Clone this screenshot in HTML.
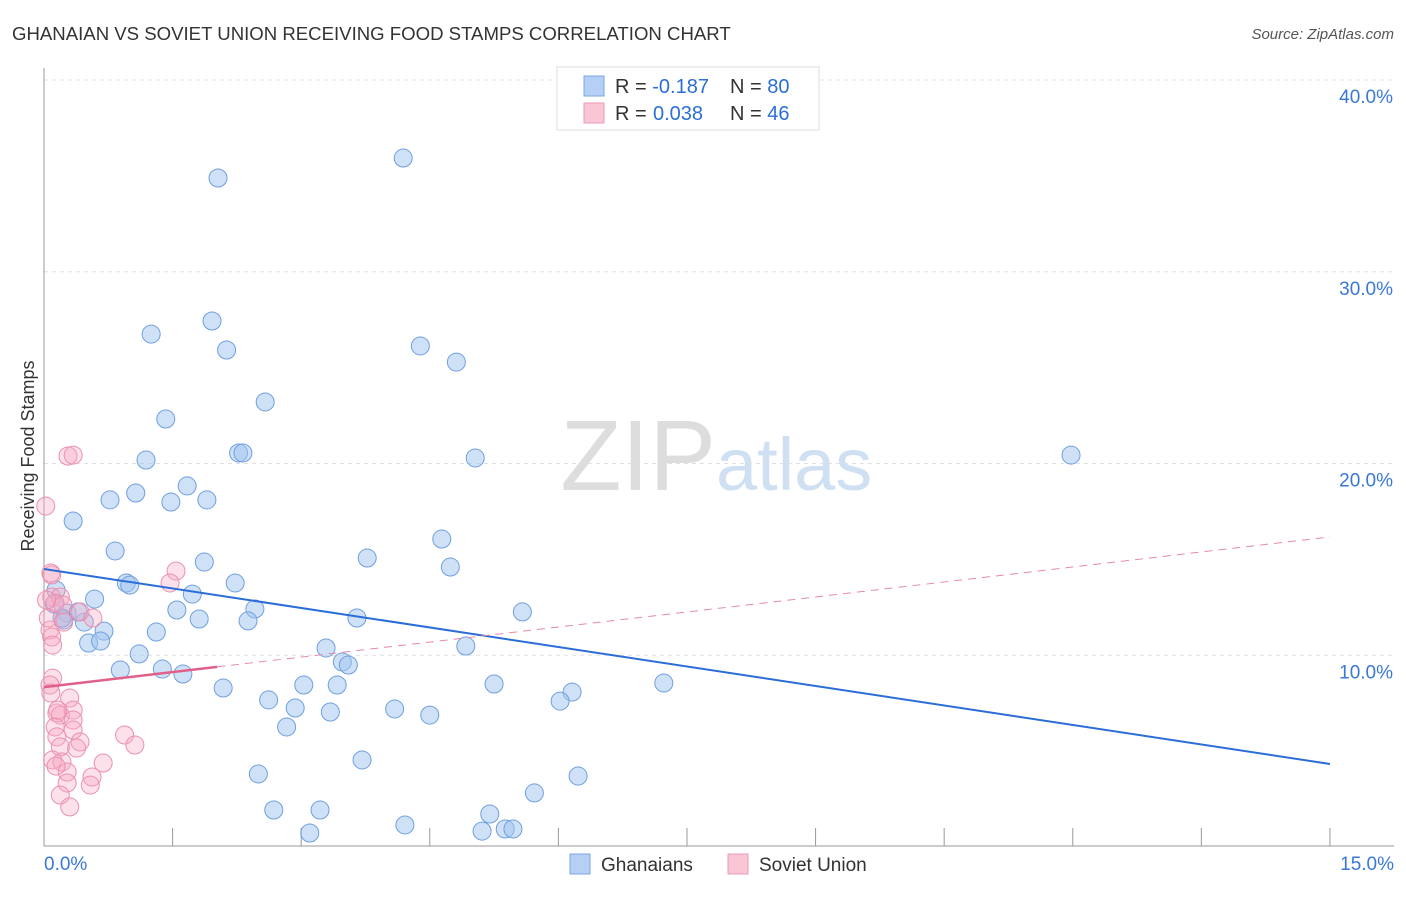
<!DOCTYPE html>
<html><head><meta charset="utf-8"><style>
body{margin:0;background:#fff;font-family:"Liberation Sans",sans-serif;}
svg text{font-family:"Liberation Sans",sans-serif;}
</style></head><body>
<svg id="c" width="1406" height="892">
<text x="12" y="40" font-size="18.6" fill="#333">GHANAIAN VS SOVIET UNION RECEIVING FOOD STAMPS CORRELATION CHART</text>
<text x="1394" y="39" font-size="15" fill="#555" text-anchor="end" font-style="italic">Source: ZipAtlas.com</text>
<text x="716" y="490" font-size="100" fill="#ddd" text-anchor="end" font-family="Liberation Serif">ZIP</text>
<text x="716" y="490" font-size="74" fill="#cfe0f3">atlas</text>
<text transform="translate(34,456) rotate(-90)" font-size="18" fill="#333" text-anchor="middle">Receiving Food Stamps</text>
<g id="grid"></g><g id="pts"></g><g id="lines"></g>
<g>
<rect x="557" y="67" width="262" height="63" fill="#fff" stroke="#ddd"/>
<rect x="584" y="76" width="20" height="20" fill="#b5d0f4" stroke="#7aa6e3"/>
<rect x="584" y="103" width="20" height="20" fill="#f9c6d6" stroke="#ec9bb6"/>
<text x="615" y="93" font-size="20" fill="#333">R = <tspan fill="#2b6fd6">-0.187</tspan><tspan x="730">N = </tspan><tspan fill="#2b6fd6">80</tspan></text>
<text x="615" y="120" font-size="20" fill="#333">R = <tspan x="653" fill="#2b6fd6">0.038</tspan><tspan x="730">N = </tspan><tspan fill="#2b6fd6">46</tspan></text>
</g>
<g>
<rect x="570" y="854" width="20" height="20" fill="#b5d0f4" stroke="#7aa6e3"/>
<text x="601" y="871" font-size="19" fill="#333">Ghanaians</text>
<rect x="728" y="854" width="20" height="20" fill="#f9c6d6" stroke="#ec9bb6"/>
<text x="759" y="871" font-size="19" fill="#333">Soviet Union</text>
</g>
</svg>
<script>
const yTicks=[10,20,30,40];
const xTickLabels=["0.0%","15.0%"];
const blueX=[4.19,2.03,1.96,1.25,2.13,4.39,4.81,2.58,1.42,1.19,2.27,2.32,5.03,11.98,1.67,1.07,0.77,1.48,1.90,0.34,0.83,4.64,1.87,3.77,4.74,0.96,1.00,2.23,0.14,1.73,0.59,0.12,1.55,2.46,5.58,3.65,1.81,2.38,0.27,0.23,0.47,0.70,1.31,0.52,0.66,3.29,4.92,1.11,3.48,3.55,0.89,1.38,1.62,2.09,3.03,3.42,5.25,6.16,7.23,2.62,2.93,3.34,4.09,4.50,6.02,2.83,3.71,2.50,6.23,5.72,2.68,3.22,5.20,4.21,3.10,5.11,5.38,5.47,0.21,0.40];
const blueY=[35.93,34.89,27.43,26.75,25.92,26.13,25.29,23.21,22.32,20.18,20.55,20.55,20.29,20.44,18.83,18.46,18.10,17.99,18.10,17.00,15.44,16.06,14.86,15.07,14.60,13.77,13.66,13.77,13.40,13.19,12.93,12.67,12.36,12.41,12.26,11.94,11.89,11.79,12.20,11.84,11.73,11.26,11.21,10.64,10.74,10.38,10.48,10.07,9.65,9.49,9.23,9.28,9.02,8.29,8.45,8.45,8.50,8.08,8.55,7.67,7.25,7.04,7.20,6.88,7.61,6.26,4.54,3.81,3.70,2.82,1.93,1.93,1.72,1.15,0.73,0.83,0.94,0.94,11.94,12.26];
const pinkX=[0.28,0.34,0.02,1.54,1.47,0.08,0.09,0.19,0.13,0.22,0.42,0.57,0.07,0.09,0.10,0.10,0.07,0.08,0.30,0.15,0.19,0.34,0.34,0.13,0.34,0.15,0.42,0.38,0.19,0.94,1.06,0.10,0.21,0.69,0.27,0.27,0.56,0.54,0.19,0.30,0.03,0.05,0.09,0.16,0.14,0.23];
const pinkY=[20.39,20.44,17.78,14.39,13.77,14.29,13.04,13.04,12.72,12.62,12.26,11.94,11.32,10.95,10.53,8.81,8.45,8.03,7.77,6.99,6.88,7.14,6.62,6.26,6.10,5.74,5.48,5.16,5.22,5.84,5.32,4.54,4.43,4.38,3.91,3.34,3.65,3.23,2.71,2.09,12.88,11.94,14.19,7.14,4.22,11.73];
const blueFit=[14.5,4.33];
const pinkFit=[8.34,16.17];
const pinkSolidEnd=2.02;
const NS="http://www.w3.org/2000/svg";
const X=v=>44+v*85.73, Y=v=>847-v*19.175;
function mk(t,a,p){const e=document.createElementNS(NS,t);for(const k in a)e.setAttribute(k,a[k]);p.appendChild(e);return e;}
const grid=document.getElementById('grid');
yTicks.forEach(t=>{
 const l=mk('line',{x1:44,x2:1394,y1:Y(t),y2:Y(t),stroke:'#e0e0e0','stroke-dasharray':'4,4'},grid);
 
 
 const tx=mk('text',{x:1393,y:Y(t)+23,'font-size':19,fill:'#3a78d8','text-anchor':'end'},grid);
 tx.textContent=t.toFixed(1)+'%';
 
 
});
const ax=mk('line',{x1:44,x2:44,y1:68,y2:846,stroke:'#999'},grid);


const bx=mk('line',{x1:44,x2:1394,y1:846,y2:846,stroke:'#999'},grid);


for(let i=0;i<=10;i++){const t=mk('line',{x1:X(i*1.5),x2:X(i*1.5),y1:828,y2:846,stroke:'#999'},grid);
 
 }
[[0,'start',44],[15,'end',1394]].forEach((d,i)=>{const t=mk('text',{x:d[2],y:870,'font-size':19,fill:'#3a78d8','text-anchor':d[1]},grid);t.textContent=xTickLabels[i];
 
 });
const pts=document.getElementById('pts');
blueX.forEach((x,i)=>{const c=mk('circle',{cx:X(x),cy:Y(blueY[i]),r:9,fill:'rgba(160,196,240,0.5)',stroke:'#6f9fe0','stroke-width':1},pts);
 
 });
pinkX.forEach((x,i)=>{const c=mk('circle',{cx:X(x),cy:Y(pinkY[i]),r:9,fill:'rgba(245,170,195,0.35)',stroke:'#ec8fae','stroke-width':1},pts);
 
 });
const lines=document.getElementById('lines');
const pf=x=>pinkFit[0]+(pinkFit[1]-pinkFit[0])*x/15;
const l1=mk('line',{x1:X(0),y1:Y(blueFit[0]),x2:X(15),y2:Y(blueFit[1]),stroke:'#2a6dd9','stroke-width':2},lines);


const l2=mk('line',{x1:X(pinkSolidEnd),y1:Y(pf(pinkSolidEnd)),x2:X(15),y2:Y(pinkFit[1]),stroke:'#e58aa8','stroke-width':1,'stroke-dasharray':'8,6'},lines);


const l3=mk('line',{x1:X(0),y1:Y(pinkFit[0]),x2:X(pinkSolidEnd),y2:Y(pf(pinkSolidEnd)),stroke:'#e0608a','stroke-width':2.5},lines);


</script>
</body></html>
